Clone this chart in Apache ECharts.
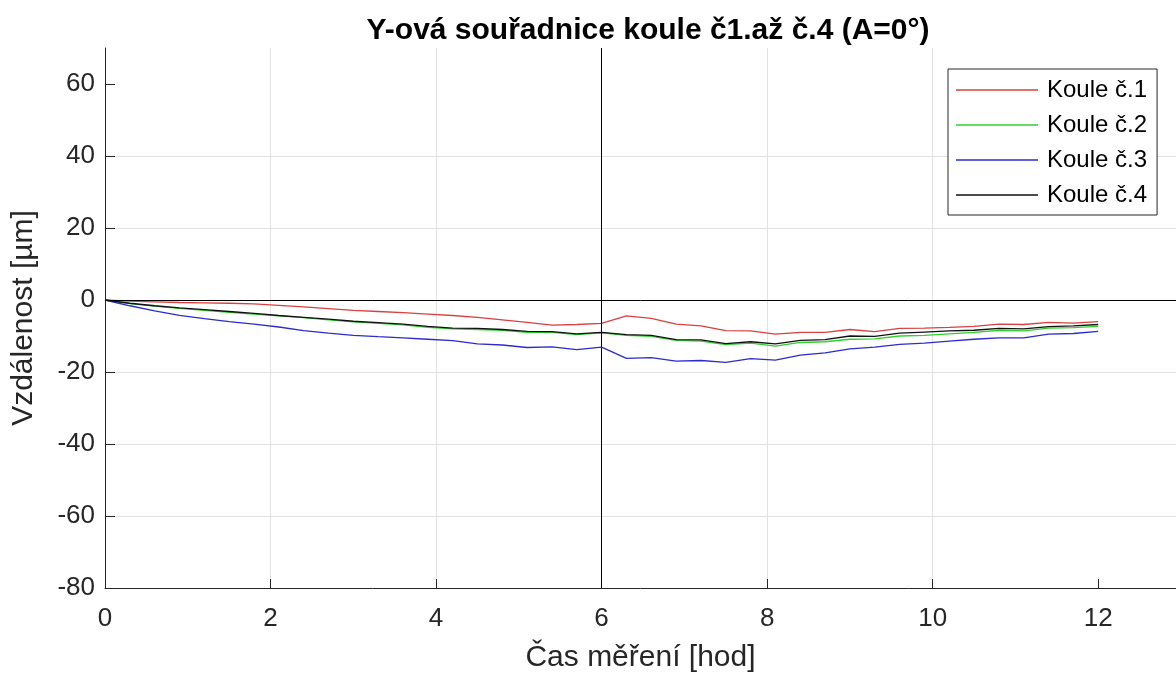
<!DOCTYPE html>
<html>
<head>
<meta charset="utf-8">
<script src="https://cdn.jsdelivr.net/npm/echarts@6/dist/echarts.min.js"></script>
<style>
  html, body { margin: 0; padding: 0; background: #fff; }
  #chart { width: 1176px; height: 679px; }
</style>
</head>
<body>
<div id="chart"></div>
<script>
// Measurement time [h]
const hours = [0, 0.3, 0.6, 0.9, 1.2, 1.5, 1.8, 2.1, 2.4, 2.7, 3.0, 3.3, 3.6, 3.9, 4.2, 4.5, 4.8, 5.1, 5.4, 5.7,
  6.0, 6.3, 6.6, 6.9, 7.2, 7.5, 7.8, 8.1, 8.4, 8.7, 9.0, 9.3, 9.6, 9.9, 10.2, 10.5, 10.8, 11.1, 11.4, 11.7, 12.0];

// Y deviation of each sphere [µm]
const koule1 = [0, -0.3, -0.5, -0.7, -0.8, -0.9, -1.1, -1.5, -1.9, -2.4, -2.9, -3.2, -3.5, -3.9, -4.3, -4.8, -5.5, -6.2, -7.0, -6.8,
  -6.5, -4.4, -5.1, -6.7, -7.2, -8.5, -8.6, -9.5, -9.0, -9.0, -8.2, -8.8, -7.9, -7.8, -7.6, -7.3, -6.7, -6.8, -6.2, -6.4, -6.0];
const koule2 = [0, -1.0, -1.7, -2.3, -2.9, -3.4, -3.9, -4.4, -4.9, -5.5, -6.1, -6.5, -6.9, -7.6, -8.0, -8.2, -8.4, -9.0, -9.0, -9.6,
  -9.1, -9.8, -10.1, -11.2, -11.4, -12.4, -12.0, -12.8, -11.8, -11.6, -10.9, -10.8, -10.0, -9.8, -9.4, -9.0, -8.4, -8.6, -7.8, -7.7, -7.3];
const koule3 = [0, -1.6, -3.0, -4.3, -5.2, -6.0, -6.7, -7.5, -8.5, -9.2, -9.8, -10.2, -10.5, -10.9, -11.3, -12.2, -12.5, -13.2, -13.0, -13.8,
  -13.1, -16.2, -16.0, -17.0, -16.8, -17.3, -16.3, -16.7, -15.3, -14.7, -13.6, -13.1, -12.3, -12.0, -11.4, -10.9, -10.5, -10.5, -9.5, -9.3, -8.7];
const koule4 = [0, -0.9, -1.6, -2.2, -2.7, -3.2, -3.7, -4.3, -4.8, -5.3, -5.9, -6.3, -6.7, -7.3, -7.8, -7.9, -8.2, -8.7, -8.8, -9.4,
  -9.0, -9.6, -9.8, -11.0, -11.1, -12.1, -11.6, -12.2, -11.2, -11.0, -10.0, -10.1, -9.2, -8.9, -8.6, -8.4, -7.9, -8.0, -7.4, -7.2, -6.8];

const seriesNames = ['Koule č.1', 'Koule č.2', 'Koule č.3', 'Koule č.4'];
const seriesColors = ['#d9403f', '#2ed12e', '#2b2bd0', '#111111'];
const seriesData = [koule1, koule2, koule3, koule4];

const xTicks = [0, 2, 4, 6, 8, 10, 12];
const yTicks = [-80, -60, -40, -20, 0, 20, 40, 60];

const FONT = "'Liberation Sans', Arial, Helvetica, sans-serif";
const INK = '#262626';

const chart = echarts.init(document.getElementById('chart'), null, { renderer: 'canvas' });

const lineSeries = seriesData.map((vals, i) => ({
  name: seriesNames[i],
  type: 'line',
  data: hours.map((h, j) => [h, vals[j]]),
  symbol: 'none',
  smooth: false,
  lineStyle: { color: seriesColors[i], width: 1.3 },
  itemStyle: { color: seriesColors[i] },
  z: 3 + i
}));

// Reference lines: zero deviation and the 6 h mark
lineSeries.push({
  name: 'ref',
  type: 'line',
  data: [],
  silent: true,
  markLine: {
    silent: true,
    symbol: ['none', 'none'],
    label: { show: false },
    lineStyle: { color: '#000', type: 'solid', width: 1 },
    animation: false,
    data: [{ xAxis: 6 }, { yAxis: 0 }]
  },
  z: 2
});

chart.setOption({
  animation: false,
  backgroundColor: '#fff',
  title: {
    text: 'Y-ová souřadnice koule č1.až č.4 (A=0°)',
    left: 643,
    textAlign: 'center',
    top: 11,
    textStyle: { fontFamily: FONT, fontSize: 30, fontWeight: 'bold', color: '#000' }
  },
  grid: { left: 105, right: 0, top: 48, bottom: 91, containLabel: false },
  legend: {
    data: seriesNames,
    orient: 'vertical',
    left: 948,
    top: 69,
    padding: [9, 10, 8, 8],
    itemGap: 11,
    itemWidth: 82,
    itemHeight: 1.5,
    icon: 'rect',
    backgroundColor: '#fff',
    borderColor: INK,
    borderWidth: 1,
    borderRadius: 0,
    textStyle: { fontFamily: FONT, fontSize: 24, color: '#000', lineHeight: 24, padding: [0, 0, 0, 4] }
  },
  xAxis: {
    type: 'value',
    min: 0,
    max: 12.94,
    interval: 2,
    name: 'Čas měření [hod]',
    nameLocation: 'middle',
    nameGap: 55,
    nameTextStyle: { fontFamily: FONT, fontSize: 30, color: INK },
    axisLine: { show: true, onZero: false, lineStyle: { color: INK, width: 1 } },
    axisTick: { show: true, inside: true, length: 9, customValues: xTicks, lineStyle: { color: INK } },
    axisLabel: { customValues: xTicks, margin: 18, fontFamily: FONT, fontSize: 26, color: INK },
    splitLine: { show: true, showMaxLine: false, lineStyle: { color: '#e2e2e2', width: 1 } }
  },
  yAxis: {
    type: 'value',
    min: -80,
    max: 70,
    interval: 20,
    name: 'Vzdálenost [µm]',
    nameLocation: 'middle',
    nameRotate: 90,
    nameGap: 66,
    nameTextStyle: { fontFamily: FONT, fontSize: 30, color: INK },
    axisLine: { show: true, onZero: false, lineStyle: { color: INK, width: 1 } },
    axisTick: { show: true, inside: true, length: 10, customValues: yTicks, lineStyle: { color: INK } },
    axisLabel: { customValues: yTicks, margin: 10, fontFamily: FONT, fontSize: 26, color: INK },
    splitLine: { show: true, showMaxLine: false, lineStyle: { color: '#e2e2e2', width: 1 } }
  },
  series: lineSeries
});
</script>
</body>
</html>
